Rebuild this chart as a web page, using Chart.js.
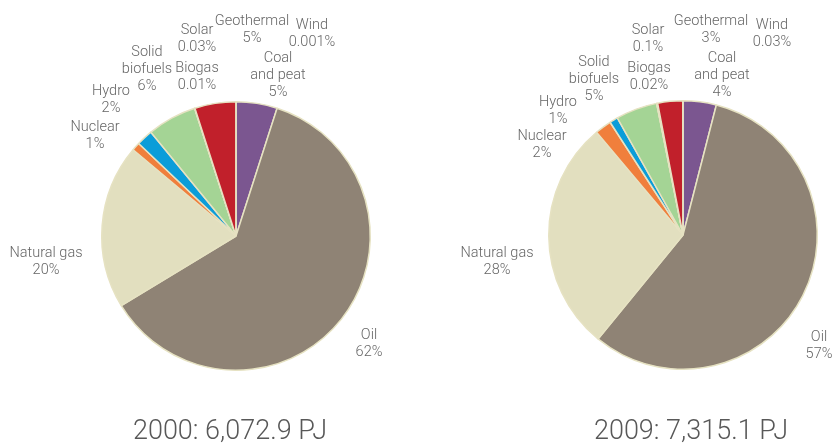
<!DOCTYPE html>
<html>
<head>
<meta charset="utf-8">
<title>Energy supply 2000 and 2009</title>
<script src="https://cdn.jsdelivr.net/npm/chart.js@4"></script>
<style>
    body { margin: 0; background: #fff; }
    #wrap { position: relative; width: 834px; height: 444px; overflow: hidden; }
    canvas { position: absolute; top: 0; }
    #pie2000 { left: 0; }
    #pie2009 { left: 417px; }
</style>
</head>
<body>
<div id="wrap">
    <canvas id="pie2000" width="417" height="444"></canvas>
    <canvas id="pie2009" width="417" height="444"></canvas>
</div>
<script>
// sources, clockwise from 12 o'clock
const sources = [['Coal', 'and peat'], ['Oil'], ['Natural gas'], ['Nuclear'], ['Hydro'],
    ['Solid', 'biofuels'], ['Biogas'], ['Solar'], ['Geothermal'], ['Wind']];
const share2000 = [5, 62, 20, 1, 2, 6, 0.01, 0.03, 5, 0.001];
const share2009 = [4, 57, 28, 2, 1, 5, 0.02, 0.1, 3, 0.03];
const titles = ['2000: 6,072.9 PJ', '2009: 7,315.1 PJ'];

const sliceColors = ['#7b5690', '#8f8375', '#e2dfbf', '#f07f3c', '#0b9dd9',
    '#a4d495', '#e8c84a', '#f3e27a', '#c1202b', '#9fb3c8'];

// label anchors (px from pie centre, first line)
const labelOffsets2000 = [[42, -178], [133, 99], [-190, 17], [-141, -109], [-125, -145],
    [-89, -184], [-39, -168], [-39, -206], [16, -215], [76, -211]];
const labelOffsets2009 = [[39, -177], [136, 102], [-186, 18], [-141, -99], [-125, -133],
    [-89, -173], [-34, -167], [-35, -205], [28, -214], [89, -210]];

const labelFont = '300 14.5px Roboto, "Liberation Sans", sans-serif';
const titleFont = '300 27px Roboto, "Liberation Sans", sans-serif';

const sliceLabels = {
    id: 'sliceLabels',
    afterDraw(chart, args, opts) {
        const ctx = chart.ctx;
        const arc = chart.getDatasetMeta(0).data[0];
        const cx = arc.x, cy = arc.y;
        const values = chart.data.datasets[0].data;
        ctx.save();
        ctx.textAlign = 'center';
        ctx.textBaseline = 'middle';
        ctx.fillStyle = '#666666';
        ctx.font = labelFont;
        sources.forEach((name, i) => {
            const lines = name.concat([values[i] + '%']);
            const [dx, dy] = opts.offsets[i];
            lines.forEach((line, j) => {
                ctx.fillText(line, cx + dx, cy + dy + j * 17);
            });
        });
        ctx.fillStyle = '#585858';
        ctx.font = titleFont;
        ctx.fillText(opts.title, cx + opts.titleOffset[0], cy + opts.titleOffset[1]);
        ctx.restore();
    }
};

function makePie(id, values, offsets, title, padding, titleOffset) {
    new Chart(document.getElementById(id), {
        type: 'pie',
        data: {
            labels: sources.map(s => s.join(' ')),
            datasets: [{
                data: values,
                backgroundColor: sliceColors,
                borderColor: '#e6e2c2',
                borderWidth: 1.5
            }]
        },
        options: {
            responsive: false,
            animation: false,
            layout: { padding: padding },
            plugins: {
                legend: { display: false },
                tooltip: { enabled: true },
                sliceLabels: { offsets: offsets, title: title, titleOffset: titleOffset }
            }
        },
        plugins: [sliceLabels]
    });
}

makePie('pie2000', share2000, labelOffsets2000, titles[0],
    { left: 101, top: 101, right: 46, bottom: 73 }, [-6, 196]);
makePie('pie2009', share2009, labelOffsets2009, titles[1],
    { left: 131, top: 100, right: 16, bottom: 74 }, [8, 197]);
</script>
</body>
</html>
